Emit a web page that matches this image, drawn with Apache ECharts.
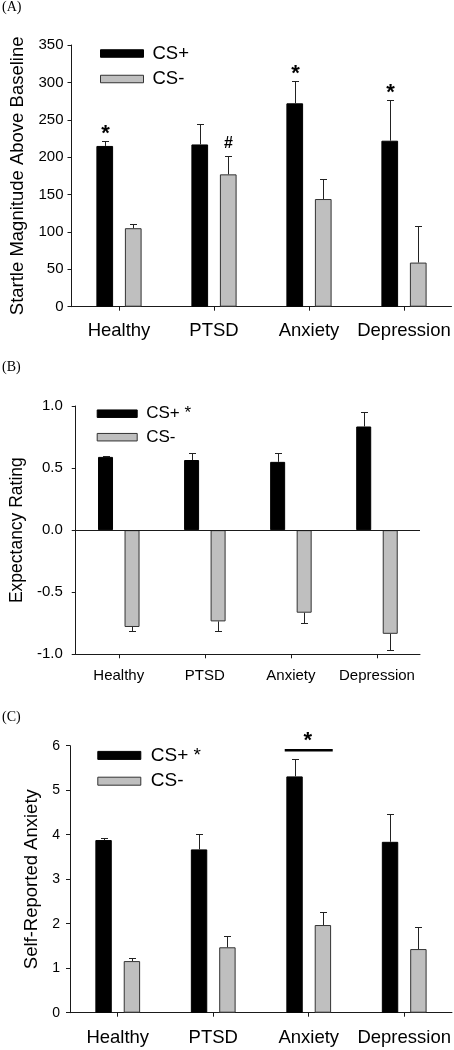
<!DOCTYPE html>
<html>
<head>
<meta charset="utf-8">
<script src="https://cdn.jsdelivr.net/npm/echarts@6/dist/echarts.min.js"></script>
<style>
html,body{margin:0;padding:0;background:#fff;}
#chart{width:454px;height:1050px;}
</style>
</head>
<body>
<div id="chart"></div>
<script>
// ---------- DATA ----------
const categories = ['Healthy', 'PTSD', 'Anxiety', 'Depression'];

// (A) Startle magnitude above baseline
const startlePlus = [215, 217, 272, 222];
const startlePlusErr = [6, 28, 30, 55];
const startleMinus = [105, 177, 144, 59];
const startleMinusErr = [5, 25, 27, 49];
const startlePlusMarks = ['*', '', '*', '*'];
const startleMinusMarks = ['', '#', '', ''];

// (B) Expectancy rating
const expPlus = [0.59, 0.565, 0.55, 0.835];
const expPlusErr = [0.01, 0.055, 0.068, 0.12];
const expMinus = [-0.78, -0.735, -0.665, -0.835];
const expMinusErr = [0.03, 0.075, 0.085, 0.13];

// (C) Self-reported anxiety
const anxPlus = [3.88, 3.67, 5.31, 3.84];
const anxPlusErr = [0.05, 0.35, 0.38, 0.63];
const anxMinus = [1.16, 1.47, 1.97, 1.43];
const anxMinusErr = [0.06, 0.26, 0.29, 0.49];
const anxBracketCat = [2];
const anxBracketVal = [5.9];
const anxBracketMark = ['*'];

const legendPlusA = 'CS+';
const legendPlusBC = 'CS+ *';
const legendMinus = 'CS-';

// ---------- STYLE ----------
const FONT = 'Liberation Sans, Arial, sans-serif';
const SERIF = 'Liberation Serif, Times New Roman, serif';
const BLACK = '#000000';
const GRAY = '#bfbfbf';
const AXIS = '#1a1a1a';

const panels = [
  {bw: 16.7, gap: 0.707}, // A
  {bw: 15.0, gap: 0.767}, // B
  {bw: 16.4, gap: 0.729}  // C
];
function dxOf(p) { return p.bw * (1 + p.gap) / 2; }

function barSeries(name, gi, data, color, border, p, extra) {
  return Object.assign({
    name: name, type: 'bar', xAxisIndex: gi, yAxisIndex: gi,
    data: data, barWidth: p.bw, barGap: (p.gap * 100) + '%',
    itemStyle: {color: color, borderColor: border, borderWidth: 1},
    silent: true, z: 2
  }, extra || {});
}

function errSeries(gi, values, errs, marks, dx) {
  return {
    type: 'custom', xAxisIndex: gi, yAxisIndex: gi, silent: true, z: 3,
    data: values.map((v, i) => [i, v, errs[i]]),
    renderItem: function (params, api) {
      const i = api.value(0), v = api.value(1), e = api.value(2);
      const s = v >= 0 ? 1 : -1;
      const p0 = api.coord([i, v]);
      const p1 = api.coord([i, v + s * e]);
      const x = Math.round(p0[0] + dx) + 0.5;
      const yEnd = Math.round(p1[1]) + 0.5;
      const children = [
        {type: 'line', shape: {x1: x, y1: p0[1], x2: x, y2: yEnd}, style: {stroke: '#222', lineWidth: 1}},
        {type: 'line', shape: {x1: x - 3.5, y1: yEnd, x2: x + 3.5, y2: yEnd}, style: {stroke: '#222', lineWidth: 1}}
      ];
      const m = marks ? marks[params.dataIndex] : '';
      if (m) {
        children.push({
          type: 'text', x: x, y: yEnd - 13 + (m === '*' ? 5 : 0),
          style: {text: m, fill: '#000', font: (m === '*' ? 'bold 22px ' : 'bold 16px ') + FONT, align: 'center', verticalAlign: 'middle'}
        });
      }
      return {type: 'group', children: children};
    }
  };
}

function bracketSeries(gi, cats, vals, marks, half) {
  return {
    type: 'custom', xAxisIndex: gi, yAxisIndex: gi, silent: true, z: 3,
    data: cats.map((c, i) => [c, vals[i]]),
    renderItem: function (params, api) {
      const p = api.coord([api.value(0), api.value(1)]);
      const cx = p[0];
      return {type: 'group', children: [
        {type: 'line', shape: {x1: cx - half, y1: p[1], x2: cx + half, y2: p[1]}, style: {stroke: '#000', lineWidth: 2.5}},
        {type: 'text', x: cx - 1, y: p[1] - 9, style: {text: marks[params.dataIndex], fill: '#000', font: 'bold 22px ' + FONT, align: 'center', verticalAlign: 'middle'}}
      ]};
    }
  };
}

function xAxisCfg(gi, fontSize, margin) {
  return {
    type: 'category', gridIndex: gi, data: categories,
    axisLine: {show: true, onZero: false, lineStyle: {color: AXIS, width: 1}},
    axisTick: {show: true, alignWithLabel: true, length: 4, lineStyle: {color: AXIS}},
    axisLabel: {fontFamily: FONT, fontSize: fontSize, color: '#000', margin: margin, interval: 0},
    splitLine: {show: false}
  };
}

function yAxisCfg(gi, name, min, max, interval, fontSize, nameSize, nameGap, margin, fmt) {
  return {
    type: 'value', gridIndex: gi, min: min, max: max, interval: interval,
    name: name, nameLocation: 'middle', nameRotate: 90, nameGap: nameGap,
    nameTextStyle: {fontFamily: FONT, fontSize: nameSize, color: '#000'},
    axisLine: {show: true, lineStyle: {color: AXIS, width: 1}},
    axisTick: {show: true, length: 4, lineStyle: {color: AXIS}},
    axisLabel: {fontFamily: FONT, fontSize: fontSize, color: '#000', margin: margin, formatter: fmt},
    splitLine: {show: false}
  };
}

function legendCfg(left, top, names, w, h, gap, fontSize, pad) {
  return {
    orient: 'vertical', left: left, top: top, padding: 0, itemGap: gap,
    itemWidth: w, itemHeight: h, icon: 'rect', selectedMode: false,
    textStyle: {fontFamily: FONT, fontSize: fontSize, color: '#000', lineHeight: 16, padding: [0, 0, 0, pad]},
    data: [
      {name: names[0], itemStyle: {color: BLACK, borderColor: BLACK, borderWidth: 1}},
      {name: names[1], itemStyle: {color: GRAY, borderColor: '#333', borderWidth: 1}}
    ]
  };
}

const option = {
  backgroundColor: '#ffffff',
  animation: false,
  title: [
    {text: '(A)', left: 2, top: 0, padding: 0, textStyle: {fontFamily: SERIF, fontSize: 14, fontWeight: 'normal', color: '#000'}},
    {text: '(B)', left: 2, top: 360, padding: 0, textStyle: {fontFamily: SERIF, fontSize: 14, fontWeight: 'normal', color: '#000'}},
    {text: '(C)', left: 2, top: 710, padding: 0, textStyle: {fontFamily: SERIF, fontSize: 14, fontWeight: 'normal', color: '#000'}}
  ],
  legend: [
    legendCfg(100, 44, [legendPlusA, legendMinus], 43, 7.5, 6.5, 18.5, 4),
    legendCfg(96.7, 405.2, [legendPlusBC, legendMinus], 40, 7.5, 6.5, 17, 4),
    legendCfg(97.3, 745.9, [legendPlusBC, legendMinus], 43, 8, 6.8, 19, 5)
  ],
  grid: [
    {left: 71.5, top: 45, width: 380, height: 261.7},
    {left: 72.5, top: 406, width: 347.5, height: 248.3},
    {left: 70, top: 745.7, width: 382, height: 267}
  ],
  xAxis: [
    xAxisCfg(0, 18.5, 15),
    xAxisCfg(1, 15, 14),
    xAxisCfg(2, 18.5, 16)
  ],
  yAxis: [
    yAxisCfg(0, 'Startle Magnitude Above Baseline', 0, 350, 50, 15, 18.5, 44, 8),
    yAxisCfg(1, 'Expectancy Rating', -1, 1, 0.5, 15, 17.5, 45, 13, v => v.toFixed(1)),
    yAxisCfg(2, 'Self-Reported Anxiety', 0, 6, 1, 14, 18.5, 27, 10)
  ],
  series: [
    // A
    barSeries(legendPlusA, 0, startlePlus, BLACK, BLACK, panels[0]),
    barSeries(legendMinus, 0, startleMinus, GRAY, '#333', panels[0]),
    errSeries(0, startlePlus, startlePlusErr, startlePlusMarks, -dxOf(panels[0])),
    errSeries(0, startleMinus, startleMinusErr, startleMinusMarks, dxOf(panels[0])),
    // B
    barSeries(legendPlusBC, 1, expPlus, BLACK, BLACK, panels[1], {
      markLine: {silent: true, symbol: 'none', label: {show: false},
        lineStyle: {color: AXIS, width: 1, type: 'solid'}, data: [{yAxis: 0}]}
    }),
    barSeries(legendMinus, 1, expMinus, GRAY, '#333', panels[1]),
    errSeries(1, expPlus, expPlusErr, null, -dxOf(panels[1])),
    errSeries(1, expMinus, expMinusErr, null, dxOf(panels[1])),
    // C
    barSeries(legendPlusBC, 2, anxPlus, BLACK, BLACK, panels[2]),
    barSeries(legendMinus, 2, anxMinus, GRAY, '#333', panels[2]),
    errSeries(2, anxPlus, anxPlusErr, null, -dxOf(panels[2])),
    errSeries(2, anxMinus, anxMinusErr, null, dxOf(panels[2])),
    bracketSeries(2, anxBracketCat, anxBracketVal, anxBracketMark, 24)
  ]
};

const chart = echarts.init(document.getElementById('chart'), null, {renderer: 'canvas', width: 454, height: 1050});
chart.setOption(option);
</script>
</body>
</html>
